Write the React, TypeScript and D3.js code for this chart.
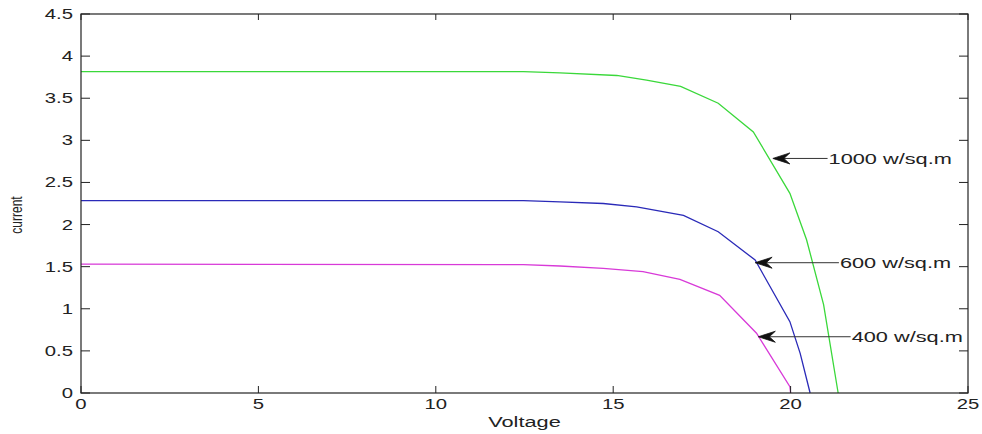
import React from "react";
import * as d3 from "d3";

const xTicks = [0, 5, 10, 15, 20, 25];
const yTicks = [0, 0.5, 1, 1.5, 2, 2.5, 3, 3.5, 4, 4.5];
const yTickLabels = ["0", "0.5", "1", "1.5", "2", "2.5", "3", "3.5", "4", "4.5"];

const greenV = [0, 12.47, 13.5, 15.1, 15.94, 16.9, 17.96, 18.95, 19.98, 20.45, 20.93, 21.34];
const greenI = [3.815, 3.815, 3.8, 3.77, 3.716, 3.64, 3.44, 3.1, 2.37, 1.82, 1.05, 0];

const blueV = [0, 12.47, 13.5, 14.72, 15.66, 16.98, 17.96, 19.0, 19.98, 20.27, 20.55];
const blueI = [2.285, 2.285, 2.27, 2.25, 2.21, 2.108, 1.915, 1.579, 0.847, 0.47, 0];

const magentaV = [0, 12.47, 13.5, 14.72, 15.84, 16.88, 18.0, 19.04, 19.98, 20.0];
const magentaI = [1.53, 1.525, 1.508, 1.48, 1.44, 1.35, 1.16, 0.71, 0.075, 0];

const annLabels = ["1000 w/sq.m", "600 w/sq.m", "400 w/sq.m"];
const annTipV = [19.5, 19.0, 19.09];
const annTipI = [2.785, 1.547, 0.668];
const annTextV = [21.07, 21.39, 21.72];

const W = 982;
const H = 434;
const L = 81, R = 968, T = 14, B = 393;
const SX = 1.45;
const FONT = "'Liberation Sans', Arial, Helvetica, sans-serif";

export default function App() {
  const x = d3.scaleLinear().domain([0, 25]).range([L, R]);
  const y = d3.scaleLinear().domain([0, 4.5]).range([B, T]);
  const line = d3
    .line<[number, number]>()
    .x((d) => x(d[0]))
    .y((d) => y(d[1]));

  const series = [
    { v: greenV, i: greenI, color: "#3ad83a" },
    { v: blueV, i: blueI, color: "#2a2ab8" },
    { v: magentaV, i: magentaI, color: "#d83ad8" },
  ];

  const textColor = "#222";

  return (
    <svg
      width={W}
      height={H}
      style={{ position: "fixed", left: 0, top: 0, background: "#fff" }}
      fontFamily={FONT}
    >
      <rect x={0} y={0} width={W} height={H} fill="#fff" />
      {series.map((s, k) => (
        <path
          key={k}
          d={line(s.v.map((vv, j) => [vv, s.i[j]] as [number, number])) || ""}
          fill="none"
          stroke={s.color}
          strokeWidth={1.3}
        />
      ))}
      {/* box */}
      <rect x={L} y={T} width={R - L} height={B - T} fill="none" stroke="#222" strokeWidth={1.2} />
      {/* y ticks */}
      {yTicks.map((t, k) => (
        <g key={"y" + k}>
          <line x1={L} x2={L + 9} y1={y(t)} y2={y(t)} stroke="#222" />
          <line x1={R - 9} x2={R} y1={y(t)} y2={y(t)} stroke="#222" />
          <text
            transform={`translate(${L - 8},${y(t) + 5}) scale(${SX},1)`}
            textAnchor="end"
            fontSize={14}
            fill={textColor}
          >
            {yTickLabels[k]}
          </text>
        </g>
      ))}
      {/* x ticks */}
      {xTicks.map((t, k) => (
        <g key={"x" + k}>
          <line x1={x(t)} x2={x(t)} y1={B} y2={B - 7} stroke="#222" />
          <line x1={x(t)} x2={x(t)} y1={T} y2={T + 6} stroke="#222" />
          <text
            transform={`translate(${x(t)},${B + 16}) scale(${SX},1)`}
            textAnchor="middle"
            fontSize={14}
            fill={textColor}
          >
            {String(t)}
          </text>
        </g>
      ))}
      <text
        transform={`translate(${(L + R) / 2},${427}) scale(${SX},1)`}
        textAnchor="middle"
        fontSize={15}
        fill={textColor}
      >
        Voltage
      </text>
      <text
        transform={`translate(${22},${215}) rotate(-90) scale(1,${SX})`}
        textAnchor="middle"
        fontSize={12}
        fill={textColor}
      >
        current
      </text>
      {/* annotations */}
      {annLabels.map((lab, k) => {
        const tx = x(annTipV[k]);
        const ty = y(annTipI[k]);
        const sx = x(annTextV[k]);
        const head = `M${tx},${ty} L${tx + 17},${ty - 5.5} L${tx + 11},${ty} L${tx + 17},${ty + 5.5} Z`;
        return (
          <g key={"a" + k}>
            <line x1={tx + 8} x2={sx - 1} y1={ty} y2={ty} stroke="#333" strokeWidth={1} />
            <path d={head} fill="#111" stroke="#111" strokeWidth={0.8} />
            <text
              transform={`translate(${sx},${ty + 5.5}) scale(${SX},1)`}
              textAnchor="start"
              fontSize={15}
              fill={textColor}
            >
              {lab}
            </text>
          </g>
        );
      })}
    </svg>
  );
}
